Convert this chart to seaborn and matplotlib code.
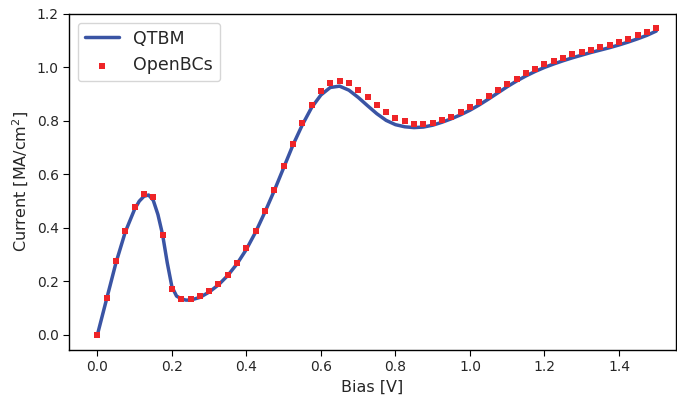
import numpy as np
import pandas as pd
import matplotlib
matplotlib.use('Agg')
import matplotlib.pyplot as plt
import seaborn as sns

# Bias grid (V), step 0.025 from 0 to 1.5
bias = np.round(np.arange(61) * 0.025, 3)

# OpenBCs current (MA/cm^2)
openbcs = [0.0, 0.139, 0.275, 0.389, 0.477, 0.528, 0.515, 0.374, 0.172, 0.135,
           0.135, 0.145, 0.163, 0.190, 0.224, 0.269, 0.324, 0.389, 0.464, 0.543,
           0.631, 0.715, 0.791, 0.860, 0.912, 0.942, 0.951, 0.942, 0.917, 0.888,
           0.859, 0.832, 0.811, 0.799, 0.790, 0.789, 0.793, 0.803, 0.816, 0.834,
           0.852, 0.872, 0.893, 0.916, 0.938, 0.958, 0.978, 0.994, 1.012, 1.024,
           1.037, 1.049, 1.058, 1.067, 1.076, 1.085, 1.095, 1.107, 1.120, 1.132,
           1.147]

# QTBM current (MA/cm^2), same grid plus a few extra points around the first peak
qtbm_bias_extra = [0.1125, 0.1375, 0.1625, 0.1875, 0.2125, 0.2375]
qtbm_extra = [0.500, 0.523, 0.450, 0.270, 0.145, 0.130]
qtbm = [0.0, 0.135, 0.270, 0.385, 0.470, 0.518, 0.503, 0.375, 0.180, 0.135,
        0.130, 0.140, 0.160, 0.187, 0.222, 0.266, 0.320, 0.385, 0.460, 0.540,
        0.625, 0.710, 0.785, 0.850, 0.897, 0.925, 0.930, 0.915, 0.888, 0.857,
        0.827, 0.802, 0.786, 0.778, 0.775, 0.777, 0.784, 0.795, 0.808, 0.823,
        0.840, 0.860, 0.882, 0.905, 0.928, 0.949, 0.968, 0.985, 1.000, 1.013,
        1.025, 1.036, 1.046, 1.056, 1.065, 1.074, 1.084, 1.095, 1.107, 1.120,
        1.136]

df_bc = pd.DataFrame({'bias': bias, 'current': openbcs})
df_qt = pd.DataFrame({'bias': np.concatenate([bias, qtbm_bias_extra]),
                      'current': np.concatenate([qtbm, qtbm_extra])}).sort_values('bias')

sns.set_style("ticks")
plt.rcParams['font.family'] = ['DejaVu Sans']

fig = plt.figure(figsize=(6.77, 3.98), dpi=100)
ax = fig.add_axes([0.102, 0.121, 0.896, 0.844])

sns.lineplot(data=df_qt, x='bias', y='current', ax=ax, color='#3a54a4', linewidth=2.5,
             label='QTBM', sort=True)
sns.scatterplot(data=df_bc, x='bias', y='current', ax=ax, marker='s', color='#ee2428',
                s=22, linewidth=0, label='OpenBCs', zorder=3)

ax.set_xlim(-0.076, 1.552)
ax.set_ylim(-0.056, 1.2)
ax.set_xticks([0.0, 0.2, 0.4, 0.6, 0.8, 1.0, 1.2, 1.4])
ax.set_yticks([0.0, 0.2, 0.4, 0.6, 0.8, 1.0, 1.2])
ax.tick_params(labelsize=10, direction='out', length=4, color='black')
for sp in ax.spines.values():
    sp.set_visible(True)
    sp.set_color('black')
    sp.set_linewidth(1.0)

ax.set_xlabel('Bias [V]', fontsize=11.5)
ax.set_ylabel('Current [MA/cm$^2$]', fontsize=11.5)

ax.legend(loc='upper left', fontsize=12.5, frameon=True, handlelength=2.0,
          borderaxespad=0.5, markerscale=0.85)

fig.savefig('out.png', dpi=100)
